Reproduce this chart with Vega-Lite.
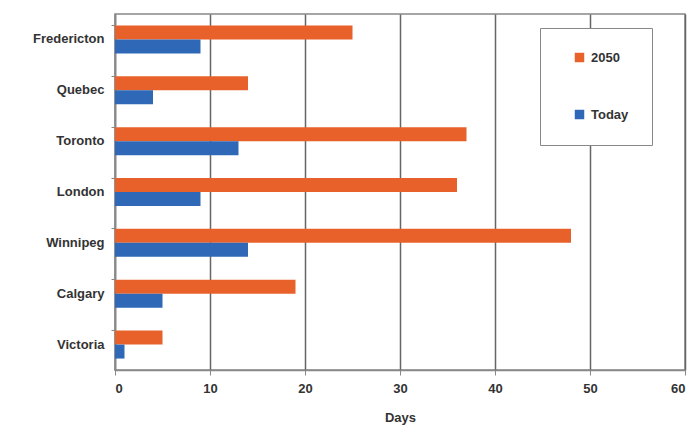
{
  "$schema": "https://vega.github.io/schema/vega-lite/v6.json",
  "width": 570,
  "height": 356,
  "autosize": {"type": "none"},
  "padding": {"left": 115, "top": 14, "right": 12, "bottom": 60},
  "background": "white",
  "config": {
    "font": "Liberation Sans",
    "view": {"stroke": "#888888", "strokeWidth": 1.5}
  },
  "data": {
    "values": [
      {"city": "Fredericton", "series": "2050", "days": 25},
      {"city": "Fredericton", "series": "Today", "days": 9},
      {"city": "Quebec", "series": "2050", "days": 14},
      {"city": "Quebec", "series": "Today", "days": 4},
      {"city": "Toronto", "series": "2050", "days": 37},
      {"city": "Toronto", "series": "Today", "days": 13},
      {"city": "London", "series": "2050", "days": 36},
      {"city": "London", "series": "Today", "days": 9},
      {"city": "Winnipeg", "series": "2050", "days": 48},
      {"city": "Winnipeg", "series": "Today", "days": 14},
      {"city": "Calgary", "series": "2050", "days": 19},
      {"city": "Calgary", "series": "Today", "days": 5},
      {"city": "Victoria", "series": "2050", "days": 5},
      {"city": "Victoria", "series": "Today", "days": 1}
    ]
  },
  "mark": {"type": "bar"},
  "encoding": {
    "y": {
      "field": "city",
      "type": "nominal",
      "sort": ["Fredericton", "Quebec", "Toronto", "London", "Winnipeg", "Calgary", "Victoria"],
      "scale": {"paddingInner": 0.45, "paddingOuter": 0.225},
      "axis": {
        "title": null,
        "labelFont": "Liberation Sans",
        "labelFontSize": 13,
        "labelFontWeight": "bold",
        "labelColor": "#333333",
        "labelPadding": 7,
        "domainColor": "#888888",
        "domainWidth": 1.5,
        "tickColor": "#888888",
        "tickSize": 4,
        "bandPosition": 0
      }
    },
    "yOffset": {"field": "series", "type": "nominal", "sort": ["2050", "Today"]},
    "x": {
      "field": "days",
      "type": "quantitative",
      "scale": {"domain": [0, 60], "nice": false},
      "axis": {
        "title": "Days",
        "values": [0, 10, 20, 30, 40, 50, 60],
        "titleFont": "Liberation Sans",
        "titleFontSize": 13,
        "titleFontWeight": "bold",
        "titleColor": "#333333",
        "titlePadding": 16,
        "labelFont": "Liberation Sans",
        "labelFontSize": 13,
        "labelFontWeight": "bold",
        "labelColor": "#333333",
        "labelPadding": 7,
        "grid": true,
        "gridColor": "#666666",
        "gridWidth": 1.5,
        "domainColor": "#888888",
        "domainWidth": 1.5,
        "tickColor": "#888888",
        "tickSize": 5
      }
    },
    "color": {
      "field": "series",
      "type": "nominal",
      "scale": {"domain": ["2050", "Today"], "range": ["#E8602A", "#2E68B6"]},
      "legend": {
        "title": null,
        "orient": "none",
        "legendX": 425,
        "legendY": 14,
        "direction": "vertical",
        "symbolType": "square",
        "symbolSize": 90,
        "symbolOffset": 10,
        "labelOffset": 5,
        "labelFont": "Liberation Sans",
        "labelFontSize": 13,
        "labelFontWeight": "bold",
        "labelColor": "#333333",
        "labelExpr": "datum.label + '\u00a0\u00a0\u00a0\u00a0\u00a0'",
        "rowPadding": 43,
        "padding": 23,
        "strokeColor": "#888888",
        "fillColor": "white"
      }
    }
  }
}
